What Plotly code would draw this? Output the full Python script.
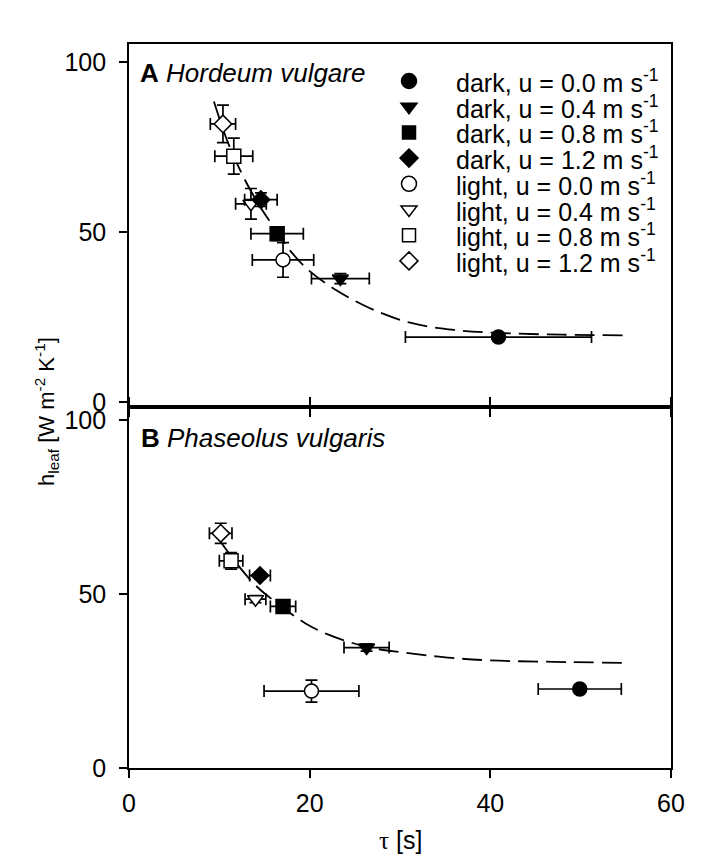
import plotly.graph_objects as go

# ---------------- data ----------------
conditions = ["dark, u = 0.0", "dark, u = 0.4", "dark, u = 0.8", "dark, u = 1.2",
              "light, u = 0.0", "light, u = 0.4", "light, u = 0.8", "light, u = 1.2"]
symbols = ["circle", "triangle-down", "square", "diamond",
           "circle-open", "triangle-down-open", "square-open", "diamond-open"]
fills = ["black", "black", "black", "black", "white", "white", "white", "white"]

# Panel A: Hordeum vulgare
tau_A = [40.9, 23.4, 16.4, 14.6, 17.05, 13.5, 11.6, 10.4]
tau_err_A = [10.3, 3.2, 2.9, 1.8, 3.4, 1.7, 2.1, 1.4]
h_A = [19.1, 36.3, 49.5, 59.5, 41.8, 58.3, 72.3, 81.8]
h_err_A = [1.0, 1.5, 2.0, 2.0, 5.1, 4.5, 5.3, 5.5]

# Panel B: Phaseolus vulgaris
tau_B = [49.9, 26.3, 17.05, 14.5, 20.2, 14.0, 11.3, 10.15]
tau_err_B = [4.6, 2.5, 1.4, 1.15, 5.25, 1.15, 1.3, 1.25]
h_B = [22.7, 34.6, 46.4, 55.3, 22.1, 48.5, 59.5, 67.4]
h_err_B = [1.0, 1.0, 1.0, 1.0, 3.15, 1.0, 2.4, 2.9]

# fitted curves
curve_A_tau = [9.4, 11.0, 12.8, 14.5, 16.4, 18.0, 20.0, 23.0, 26.5, 31.0, 36.0, 41.0, 48.0, 55.2]
curve_A_h = [88.4, 76.0, 65.5, 57.5, 50.0, 44.0, 38.5, 32.8, 27.8, 23.4, 21.2, 20.3, 19.8, 19.6]
curve_B_tau = [10.2, 12.0, 14.0, 16.5, 19.5, 22.0, 26.3, 30.3, 35.0, 40.0, 47.0, 55.3]
curve_B_h = [64.8, 58.5, 52.5, 47.1, 41.6, 38.4, 34.8, 33.2, 31.8, 30.9, 30.5, 30.2]

x_ticks = [0, 20, 40, 60]
y_ticks = [0, 50, 100]

FONT = "Liberation Sans, Arial, sans-serif"
FS = 25

fig = go.Figure()

def add_panel(tau, tau_err, h, h_err, ctau, ch, xa, ya):
    fig.add_trace(go.Scatter(
        x=ctau, y=ch, mode="lines", xaxis=xa, yaxis=ya,
        line=dict(color="black", width=1.8, dash="20px,8px", shape="spline"),
        hoverinfo="skip"))
    order = [4, 5, 6, 7, 0, 1, 2, 3]
    for i in order:
        base = symbols[i].replace("-open", "")
        fig.add_trace(go.Scatter(
            x=[tau[i]], y=[h[i]], mode="markers", xaxis=xa, yaxis=ya,
            name=conditions[i],
            marker=dict(symbol=base, size=14 if base != "diamond" else 13.5,
                        color=fills[i], line=dict(color="black", width=1.5)),
            error_x=dict(type="data", array=[tau_err[i]], color="black",
                         thickness=1.7, width=6),
            error_y=dict(type="data", array=[h_err[i]], color="black",
                         thickness=1.7, width=6)))

add_panel(tau_A, tau_err_A, h_A, h_err_A, curve_A_tau, curve_A_h, "x", "y")
add_panel(tau_B, tau_err_B, h_B, h_err_B, curve_B_tau, curve_B_h, "x2", "y2")

# ---------------- layout ----------------
L, R, T, B = 121, 45, 36, 105
W, H = 708, 865
pw, ph = W - L - R, H - T - B
split = (760 - 399) / ph

axis_common = dict(showline=True, linecolor="black", linewidth=1.6, showgrid=False,
                   zeroline=False, ticks="outside", tickcolor="black", tickwidth=1.6,
                   ticklen=8, tickfont=dict(family=FONT, size=FS, color="black"))

fig.update_layout(
    width=W, height=H,
    margin=dict(l=L, r=R, t=T, b=B),
    plot_bgcolor="white", paper_bgcolor="white",
    showlegend=False,
    font=dict(family=FONT, size=FS, color="black"),
    xaxis=dict(axis_common, domain=[0, 1], anchor="y", range=[0, 60],
               tickvals=x_ticks, showticklabels=False, mirror=True),
    yaxis=dict(axis_common, domain=[split, 1], anchor="x", range=[-1.47, 105.3],
               tickvals=y_ticks, mirror=True, ticklabelstandoff=8),
    xaxis2=dict(axis_common, domain=[0, 1], anchor="y2", range=[0, 60],
                tickvals=x_ticks, mirror="ticks", ticklabelstandoff=4),
    yaxis2=dict(axis_common, domain=[0, split], anchor="x2", range=[0, 103.7],
                tickvals=y_ticks, mirror=True, ticklabelstandoff=8),
)

def px_x(px):
    return (px - L) / pw

def px_y(py):
    return (H - B - py) / ph

annotations = [
    dict(text="<b>A</b> <i>Hordeum vulgare</i>", x=px_x(130), y=px_y(65),
         xanchor="left", yanchor="middle", font=dict(size=26)),
    dict(text="<b>B</b> <i>Phaseolus vulgaris</i>", x=px_x(131), y=px_y(430),
         xanchor="left", yanchor="middle", font=dict(size=26)),
    dict(text="h<sub>leaf</sub> [W m<sup>-2</sup> K<sup>-1</sup>]", textangle=-90,
         x=px_x(38), y=px_y(404), xanchor="center", yanchor="middle",
         font=dict(size=22)),
    dict(text='<span style="font-family:Liberation Serif">τ</span> [s]',
         x=px_x(392), y=px_y(832), xanchor="center",
         yanchor="middle", font=dict(size=25)),
]

# manual legend (tight row spacing as in the original)
leg_x_sym, leg_x_txt, leg_y0, leg_dy = 401, 446, 73, 25.7
shapes = []
r = 7
tri_rt = 8.0
paths = {
    "triangle-down": f"M{-tri_rt},{r/2} L{tri_rt},{r/2} L0,{-r} Z",
    "square": "M-6.5,-6.5 L6.5,-6.5 L6.5,6.5 L-6.5,6.5 Z",
    "diamond": "M-9,0 L0,9 L9,0 L0,-9 Z",
}
for k, cond in enumerate(conditions):
    yy = leg_y0 + k * leg_dy
    base = symbols[k].replace("-open", "")
    common = dict(xref="paper", yref="paper", xsizemode="pixel", ysizemode="pixel",
                  xanchor=px_x(leg_x_sym), yanchor=px_y(yy),
                  fillcolor=fills[k], line=dict(color="black", width=1.5), layer="above")
    if base == "circle":
        shapes.append(dict(common, type="circle", x0=-7.5, x1=7.5, y0=-7.5, y1=7.5))
    else:
        shapes.append(dict(common, type="path", path=paths[base]))
    annotations.append(dict(text=cond + " m s<sup>-1</sup>", x=px_x(leg_x_txt), y=px_y(yy),
                            xanchor="left", yanchor="middle", font=dict(size=FS)))

for a in annotations:
    a.update(xref="paper", yref="paper", showarrow=False)
fig.update_layout(annotations=annotations, shapes=shapes)

fig.write_html("out.html")
